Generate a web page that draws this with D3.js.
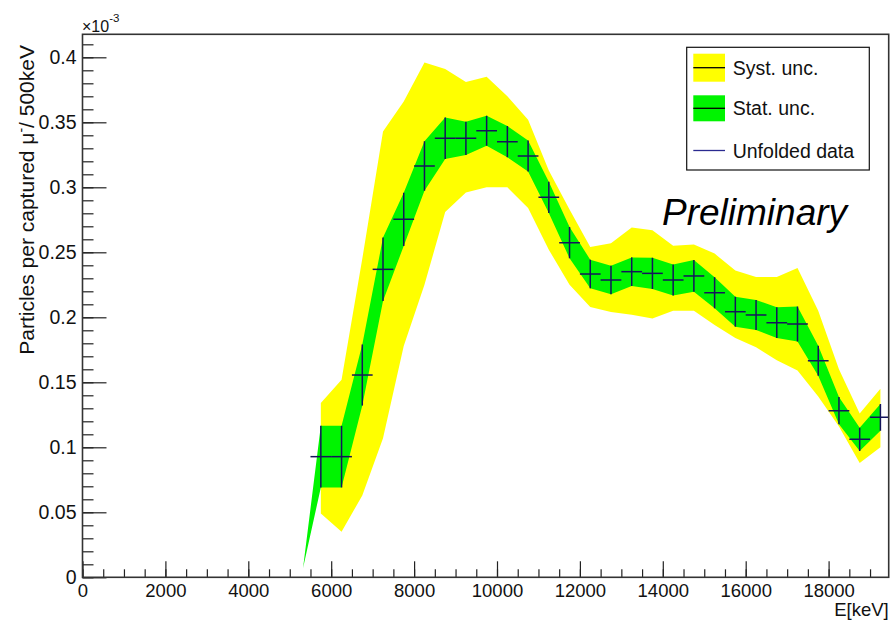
<!DOCTYPE html>
<html><head><meta charset="utf-8">
<script src="https://cdn.jsdelivr.net/npm/d3@7"></script>
<style>
html,body{margin:0;padding:0;background:#fff;}
svg{display:block;font-family:"Liberation Sans",Arial,Helvetica,sans-serif;}
svg text{font-family:"Liberation Sans",Arial,Helvetica,sans-serif;}
</style>
</head><body>
<svg id="chart" width="890" height="623"></svg>
<script>
// ---------- data (values in units of 1e-3) ----------
const energy = [5750, 6250, 6750, 7250, 7750, 8250, 8750, 9250, 9750, 10250,
  10750, 11250, 11750, 12250, 12750, 13250, 13750, 14250, 14750, 15250,
  15750, 16250, 16750, 17250, 17750, 18250, 18750, 19250];
const value = [0.0928, 0.0928, 0.1556, 0.2369, 0.2754, 0.3164, 0.3377, 0.3377, 0.3435, 0.3351,
  0.3241, 0.2923, 0.2574, 0.2333, 0.2287, 0.2351, 0.2338, 0.2287, 0.2318, 0.2189,
  0.2043, 0.2018, 0.1959, 0.1948, 0.1666, 0.1282, 0.1061, 0.1231];
const statErr = [0.0237, 0.0237, 0.0235, 0.0244, 0.0205, 0.0190, 0.0160, 0.0128, 0.0115, 0.0120,
  0.0120, 0.0120, 0.0120, 0.0110, 0.0110, 0.0110, 0.0120, 0.0120, 0.0122, 0.0120,
  0.0115, 0.0115, 0.0118, 0.0135, 0.0115, 0.0105, 0.0090, 0.0103];
const systHigh = [0.134, 0.152, 0.245, 0.343, 0.366, 0.396, 0.391, 0.381, 0.385, 0.370,
  0.352, 0.313, 0.283, 0.254, 0.257, 0.269, 0.267, 0.255, 0.256, 0.249,
  0.236, 0.231, 0.231, 0.238, 0.205, 0.160, 0.126, 0.145];
const systLow = [0.049, 0.035, 0.063, 0.107, 0.178, 0.225, 0.281, 0.296, 0.300, 0.300,
  0.284, 0.252, 0.225, 0.208, 0.204, 0.202, 0.199, 0.205, 0.205, 0.194,
  0.184, 0.177, 0.167, 0.159, 0.139, 0.116, 0.088, 0.100];
const binHalfWidth = 250;
const statBandTip = [5320, 0.007];   // start of the stat. band (energy, value)

const xTickValues = [0, 2000, 4000, 6000, 8000, 10000, 12000, 14000, 16000, 18000];
const xTickLabels = ["0", "2000", "4000", "6000", "8000", "10000", "12000", "14000", "16000", "18000"];
const yTickValues = [0, 0.05, 0.1, 0.15, 0.2, 0.25, 0.3, 0.35, 0.4];
const yTickLabels = ["0", "0.05", "0.1", "0.15", "0.2", "0.25", "0.3", "0.35", "0.4"];
const legendLabels = ["Syst. unc.", "Stat. unc.", "Unfolded data"];

// ---------- layout ----------
const svg = d3.select("#chart");
const F = {left: 82.5, right: 888.7, top: 34.3, bottom: 577.3};
const x = d3.scaleLinear().domain([0, 19450]).range([F.left, F.right]);
const y = d3.scaleLinear().domain([0, 0.4177]).range([F.bottom, F.top]);

const YELLOW = "#ffff00", GREEN = "#00f400", MARK = "#14145c";

svg.append("defs").append("clipPath").attr("id", "clip")
  .append("rect").attr("x", F.left).attr("y", F.top)
  .attr("width", F.right - F.left).attr("height", F.bottom - F.top);

const plot = svg.append("g").attr("clip-path", "url(#clip)");

const pts = energy.map((e, i) => ({e, v: value[i], s: statErr[i], hi: systHigh[i], lo: systLow[i]}));

// systematic band
plot.append("path")
  .datum(pts)
  .attr("fill", YELLOW)
  .attr("d", d3.area().x(d => x(d.e)).y0(d => y(d.lo)).y1(d => y(d.hi)));

// statistical band
const statPts = [{e: statBandTip[0], lo: statBandTip[1], hi: statBandTip[1]}]
  .concat(pts.map(d => ({e: d.e, lo: d.v - d.s, hi: d.v + d.s})));
plot.append("path")
  .datum(statPts)
  .attr("fill", GREEN)
  .attr("d", d3.area().x(d => x(d.e)).y0(d => y(d.lo)).y1(d => y(d.hi)));

// error crosses
const marks = plot.append("g").attr("stroke", MARK).attr("stroke-width", 1.5);
marks.selectAll("line.h").data(pts).join("line").attr("class", "h")
  .attr("x1", d => x(d.e - binHalfWidth)).attr("x2", d => x(d.e + binHalfWidth))
  .attr("y1", d => y(d.v)).attr("y2", d => y(d.v));
marks.selectAll("line.v").data(pts).join("line").attr("class", "v")
  .attr("x1", d => x(d.e)).attr("x2", d => x(d.e))
  .attr("y1", d => y(d.v - d.s)).attr("y2", d => y(d.v + d.s));

// ---------- axes ----------
const axColor = "#222";
const xMinor = svg.append("g").attr("transform", `translate(0,${F.bottom})`)
  .call(d3.axisBottom(x).tickValues(d3.range(0, 19451, 500)).tickSize(-8).tickFormat(""));
const xMajor = svg.append("g").attr("transform", `translate(0,${F.bottom})`)
  .call(d3.axisBottom(x).tickValues(xTickValues).tickSize(-16).tickPadding(6.6)
    .tickFormat((d, i) => xTickLabels[i]));
const yMinor = svg.append("g").attr("transform", `translate(${F.left},0)`)
  .call(d3.axisLeft(y).tickValues(d3.range(0, 0.4177, 0.01)).tickSize(-11).tickFormat(""));
const yMajor = svg.append("g").attr("transform", `translate(${F.left},0)`)
  .call(d3.axisLeft(y).tickValues(yTickValues).tickSize(-24).tickPadding(6)
    .tickFormat((d, i) => yTickLabels[i]));
[xMinor, xMajor, yMinor, yMajor].forEach(g => {
  g.attr("font-family", null).attr("font-size", null);
  g.select(".domain").remove();
  g.selectAll("line").attr("stroke", axColor).attr("stroke-width", 1.2);
  g.selectAll("text").attr("fill", "#111");
});
xMajor.selectAll("text").attr("font-size", 18.5);
yMajor.selectAll("text").attr("font-size", 19.5);

// frame
svg.append("rect").attr("x", F.left).attr("y", F.top)
  .attr("width", F.right - F.left).attr("height", F.bottom - F.top)
  .attr("fill", "none").attr("stroke", "#333").attr("stroke-width", 1.6);

// axis titles
svg.append("text").attr("x", F.right).attr("y", 616)
  .attr("text-anchor", "end").attr("font-size", 18.5).attr("fill", "#111").text("E[keV]");

const yt = svg.append("text").attr("transform", "translate(34,45) rotate(-90)")
  .attr("text-anchor", "end").attr("font-size", 21).attr("fill", "#111");
yt.append("tspan").text("Particles per captured μ");
yt.append("tspan").attr("font-size", 14).attr("dy", -8).text("-");
yt.append("tspan").attr("dy", 8).text("/ 500keV");

const ex = svg.append("text").attr("x", 82).attr("y", 31.7).attr("font-size", 16).attr("fill", "#111");
ex.append("tspan").text("×10");
ex.append("tspan").attr("font-size", 11.5).attr("dy", -10).text("-3");

// Preliminary
svg.append("text").attr("x", 662).attr("y", 225).attr("font-size", 37)
  .attr("font-style", "italic").attr("fill", "#000").text("Preliminary");

// ---------- legend ----------
const L = {x: 686.7, y: 47.3, w: 182.6, h: 122.7};
const leg = svg.append("g");
leg.append("rect").attr("x", L.x).attr("y", L.y).attr("width", L.w).attr("height", L.h)
  .attr("fill", "#fff").attr("stroke", "#111").attr("stroke-width", 1.2);
const rowY = [67.7, 108.3, 150.5];
const swX = 693.3, swW = 31.7, swH = 28;
leg.append("rect").attr("x", swX).attr("y", rowY[0] - swH / 2).attr("width", swW).attr("height", swH).attr("fill", YELLOW);
leg.append("rect").attr("x", swX).attr("y", rowY[1] - swH / 2 + 1).attr("width", swW).attr("height", swH - 2).attr("fill", GREEN);
leg.append("line").attr("x1", swX).attr("x2", swX + swW).attr("y1", rowY[0]).attr("y2", rowY[0]).attr("stroke", "#000").attr("stroke-width", 1.3);
leg.append("line").attr("x1", swX).attr("x2", swX + swW).attr("y1", rowY[1]).attr("y2", rowY[1]).attr("stroke", "#000").attr("stroke-width", 1.3);
leg.append("line").attr("x1", swX).attr("x2", swX + swW).attr("y1", rowY[2]).attr("y2", rowY[2]).attr("stroke", "#2a2a90").attr("stroke-width", 1.3);
leg.selectAll("text.l").data(legendLabels).join("text").attr("class", "l")
  .attr("x", 732.7).attr("y", (d, i) => rowY[i] + 7)
  .attr("font-size", 19.5).attr("fill", "#111").text(d => d);
</script>
</body></html>
